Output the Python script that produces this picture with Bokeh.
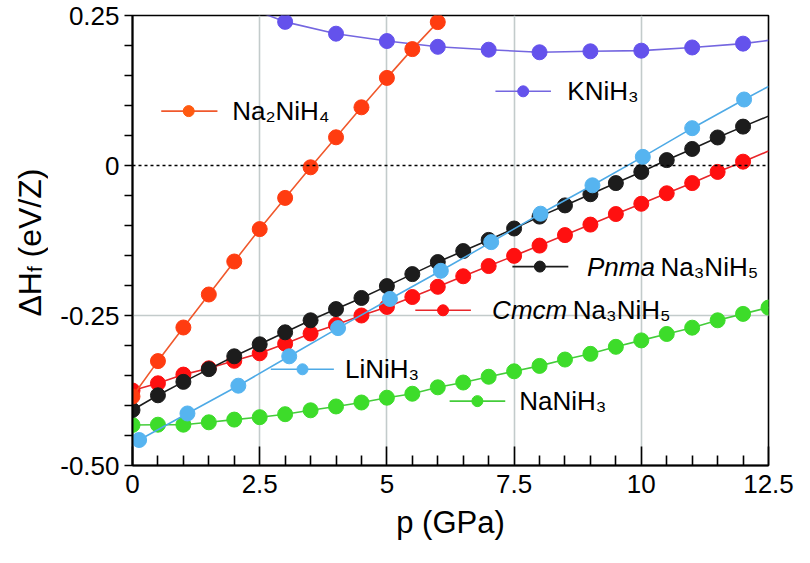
from bokeh.plotting import figure
from bokeh.layouts import row
from bokeh.models import FixedTicker, Span, Label, Range1d
from bokeh.embed import file_html
from bokeh.resources import INLINE

# ---------------- data ----------------
p_na2nih4 = [0.0, 0.5, 1.0, 1.5, 2.0, 2.5, 3.0, 3.5, 4.0, 4.5, 5.0, 5.5, 6.0]
h_na2nih4 = [-0.385, -0.326, -0.270, -0.215, -0.160, -0.106, -0.054, -0.003,
             0.047, 0.097, 0.146, 0.194, 0.239]

p_na3 = [0.0, 0.5, 1.0, 1.5, 2.0, 2.5, 3.0, 3.5, 4.0, 4.5, 5.0, 5.5, 6.0,
         6.5, 7.0, 7.5, 8.0, 8.5, 9.0, 9.5, 10.0, 10.5, 11.0, 11.5, 12.0]
h_cmcm = [-0.375, -0.363, -0.3485, -0.338, -0.3255, -0.313, -0.297, -0.280,
          -0.2655, -0.250, -0.2357, -0.2192, -0.2022, -0.1846, -0.1676, -0.1506,
          -0.1335, -0.116, -0.0985, -0.0809, -0.0638, -0.0463, -0.0293, -0.0107, 0.0064]
h_pnma = [-0.4075, -0.383, -0.3606, -0.3394, -0.318, -0.298, -0.278, -0.258,
          -0.2393, -0.2208, -0.201, -0.181, -0.161, -0.1426, -0.124, -0.105,
          -0.0852, -0.0665, -0.0479, -0.0293, -0.0107, 0.009, 0.0276, 0.0467, 0.0648]
end_p_na3 = 12.5
end_h_cmcm = 0.024
end_h_pnma = 0.0823

p_linih3 = [0.13, 1.08, 2.08, 3.08, 4.04, 5.06, 6.06, 7.05, 8.02, 9.04, 10.03, 11.0, 12.02]
h_linih3 = [-0.4575, -0.4133, -0.367, -0.318, -0.271, -0.2224, -0.1755, -0.1277,
            -0.0803, -0.033, 0.0144, 0.0622, 0.110]
start_p_linih3, start_h_linih3 = 0.0, -0.463
end_p_linih3, end_h_linih3 = 12.5, 0.1318

p_nanih3 = [0.0, 0.5, 1.0, 1.5, 2.0, 2.5, 3.0, 3.5, 4.0, 4.5, 5.0, 5.5, 6.0,
            6.5, 7.0, 7.5, 8.0, 8.5, 9.0, 9.5, 10.0, 10.5, 11.0, 11.5, 12.0, 12.5]
h_nanih3 = [-0.4325, -0.432, -0.432, -0.428, -0.4235, -0.4195, -0.4145, -0.408,
            -0.4016, -0.395, -0.387, -0.3804, -0.3697, -0.3617, -0.3521, -0.343,
            -0.334, -0.3234, -0.3139, -0.3022, -0.2915, -0.2808, -0.2703, -0.258,
            -0.2473, -0.2368]

p_knih3 = [3.0, 4.0, 5.0, 6.0, 7.0, 8.0, 9.0, 10.0, 11.0, 12.0]
h_knih3 = [0.2394, 0.2197, 0.2074, 0.1978, 0.193, 0.1887, 0.1903, 0.1914, 0.1967, 0.2031]
start_p_knih3, start_h_knih3 = 2.0, 0.272
end_p_knih3, end_h_knih3 = 12.5, 0.2085

x_ticks = [0.0, 2.5, 5.0, 7.5, 10.0, 12.5]
x_tick_labels = ["0", "2.5", "5", "7.5", "10", "12.5"]
x_minor = [0.5, 1.0, 1.5, 2.0, 3.0, 3.5, 4.0, 4.5, 5.5, 6.0, 6.5, 7.0, 8.0, 8.5,
           9.0, 9.5, 10.5, 11.0, 11.5, 12.0]
y_ticks = [-0.5, -0.25, 0.0, 0.25]
y_tick_labels = ["-0.50", "-0.25", "0", "0.25"]
y_minor = [-0.45, -0.40, -0.35, -0.30, -0.20, -0.15, -0.10, -0.05,
           0.05, 0.10, 0.15, 0.20]

x_title = "p (GPa)"
y_title_main, y_title_sub, y_title_unit = "ΔH", "f", "(eV/Z)"

# ---------------- styling ----------------
FONT = "Liberation Sans"
C_ORANGE, C_ORANGE_L, C_ORANGE_LEG = "#ff3c10", "#f0582c", "#ff5a10"
C_RED, C_RED_L = "#ff1010", "#e8262a"
C_BLACK = "#1c1c1c"
C_BLUE, C_BLUE_L = "#56b4f0", "#4eaae6"
C_GREEN, C_GREEN_L = "#3ddc2a", "#44cc3a"
C_PURPLE, C_PURPLE_L = "#6452ec", "#7466e0"

H = 547
LWF = 48                      # strip that carries the y title
BL, BR, BT, BB = 84, 26, 15, 82
FW = 636
W = BL + FW + BR              # 746 -> total 794

p = figure(width=W, height=H, x_range=Range1d(0, 12.5), y_range=Range1d(-0.5, 0.25),
           output_backend="svg", toolbar_location=None,
           min_border_left=BL, min_border_right=BR, min_border_top=BT, min_border_bottom=BB)
p.title.visible = False
p.background_fill_color = "white"
p.border_fill_color = "white"
p.outline_line_color = "black"
p.outline_line_width = 1.6

# axes
p.xaxis.ticker = FixedTicker(ticks=x_ticks, minor_ticks=x_minor)
p.xaxis.major_label_overrides = {t: l for t, l in zip(x_ticks, x_tick_labels)}
p.yaxis.ticker = FixedTicker(ticks=y_ticks, minor_ticks=y_minor)
p.yaxis.major_label_overrides = {t: l for t, l in zip(y_ticks, y_tick_labels)}
for ax in (p.xaxis[0], p.yaxis[0]):
    ax.axis_line_color = "black"
    ax.axis_line_width = 2
    ax.major_tick_line_color = "black"
    ax.minor_tick_line_color = "black"
    ax.major_tick_line_width = 1.6
    ax.minor_tick_line_width = 1.6
    ax.major_label_text_font = FONT
    ax.major_label_text_font_size = "26px"
    ax.major_label_text_color = "black"
p.xaxis.major_tick_in = 19
p.xaxis.major_tick_out = 0
p.xaxis.minor_tick_in = 10
p.xaxis.minor_tick_out = 0
p.xaxis.major_label_standoff = 9
p.yaxis.major_tick_in = 0
p.yaxis.major_tick_out = 8
p.yaxis.minor_tick_in = 0
p.yaxis.minor_tick_out = 8
p.yaxis.major_label_standoff = 5

p.xaxis.axis_label = x_title
p.xaxis.axis_label_text_font = FONT
p.xaxis.axis_label_text_font_size = "31px"
p.xaxis.axis_label_text_font_style = "normal"
p.xaxis.axis_label_text_color = "black"
p.xaxis.axis_label_standoff = 9

# grid
p.xgrid.ticker = FixedTicker(ticks=[2.5, 5.0, 7.5, 10.0])
p.ygrid.ticker = FixedTicker(ticks=[-0.25])
for g in (p.xgrid[0], p.ygrid[0]):
    g.grid_line_color = "#c3cbcb"
    g.grid_line_width = 1.6

p.add_layout(Span(location=0, dimension="width", line_color="black",
                  line_width=1.5, line_dash="3 3"))

MS = 15
LW = 1.6

# NaNiH3
p.line(p_nanih3, h_nanih3, line_color=C_GREEN_L, line_width=LW)
p.scatter(p_nanih3, h_nanih3, size=MS, fill_color=C_GREEN, line_color=C_GREEN)
# KNiH3
p.line([start_p_knih3] + p_knih3 + [end_p_knih3], [start_h_knih3] + h_knih3 + [end_h_knih3],
       line_color=C_PURPLE_L, line_width=LW)
p.scatter(p_knih3, h_knih3, size=MS, fill_color=C_PURPLE, line_color=C_PURPLE)
# Cmcm Na3NiH5
p.line(p_na3 + [end_p_na3], h_cmcm + [end_h_cmcm], line_color=C_RED_L, line_width=LW)
p.scatter(p_na3, h_cmcm, size=MS, fill_color=C_RED, line_color=C_RED)
# Pnma Na3NiH5
p.line(p_na3 + [end_p_na3], h_pnma + [end_h_pnma], line_color=C_BLACK, line_width=LW)
p.scatter(p_na3, h_pnma, size=MS, fill_color=C_BLACK, line_color=C_BLACK)
# LiNiH3
p.line([start_p_linih3] + p_linih3 + [end_p_linih3], [start_h_linih3] + h_linih3 + [end_h_linih3],
       line_color=C_BLUE_L, line_width=LW)
p.scatter(p_linih3, h_linih3, size=MS, fill_color=C_BLUE, line_color=C_BLUE)
# Na2NiH4
p.line(p_na2nih4, h_na2nih4, line_color=C_ORANGE_L, line_width=LW)
p.scatter(p_na2nih4, h_na2nih4, size=MS, fill_color=C_ORANGE, line_color=C_ORANGE)


# ---------------- inline legends ----------------
def rx(px):  # reference-pixel position -> data coordinates
    return (px - 131.7) / 51.87


def ry(py):
    return 0.25 - (py - 6.7) / 627.5


def legend(x0, x1, xm, y, col_line, col_mark, parts):
    p.line([rx(x0), rx(x1)], [ry(y), ry(y)], line_color=col_line, line_width=LW)
    p.scatter([rx(xm)], [ry(y)], size=11, fill_color=col_mark, line_color=col_mark)
    for (tx, txt, style) in parts:
        p.add_layout(Label(x=rx(tx), y=ry(y), text=txt, text_font=FONT, text_font_size="26px",
                           text_font_style=style, text_baseline="middle", text_align="left",
                           text_color="black"))


legend(161, 218.3, 189, 106.7, C_ORANGE_L, C_ORANGE_LEG, [(233.3, "Na₂NiH₄", "normal")])
legend(501.7, 558.3, 530, 86, C_PURPLE_L, C_PURPLE, [(575, "KNiH₃", "normal")])
legend(519, 576, 547, 269.3, C_BLACK, C_BLACK, [(595, "Pnma", "italic"), (670, "Na₃NiH₅", "normal")])
legend(420, 476.7, 448.3, 315, C_RED_L, C_RED, [(498.3, "Cmcm", "italic"), (580.6, "Na₃NiH₅", "normal")])
legend(272.7, 337, 305, 376.7, C_BLUE_L, C_BLUE, [(348.3, "LiNiH₃", "normal")])
legend(455, 511.7, 483.3, 410, C_GREEN_L, C_GREEN, [(526, "NaNiH₃", "normal")])

# ---------------- y title strip ----------------
# Its frame is aligned with the main frame (canvas rows BT .. H-BB), so the
# y range below makes y = -(canvas pixel row).
ft = figure(width=LWF, height=H, x_range=Range1d(0, LWF), y_range=Range1d(-(H - BB), -BT),
            output_backend="svg", toolbar_location=None,
            x_axis_location=None, y_axis_location=None,
            min_border_left=0, min_border_right=0, min_border_top=BT, min_border_bottom=BB)
ft.title.visible = False
ft.outline_line_color = None
ft.xgrid.visible = False
ft.ygrid.visible = False


def tlabel(x, y_row, txt, size):
    ft.add_layout(Label(x=x, y=-y_row, text=txt, text_font=FONT, text_font_size=size,
                        angle=90, angle_units="deg", text_align="left",
                        text_baseline="alphabetic", text_color="black"))


tlabel(29, 316.0, y_title_main, "32px")
tlabel(34, 271.5, y_title_sub, "21px")
tlabel(29, 257.0, y_title_unit, "32px")

layout = row(ft, p, spacing=0)
open("out.html", "w").write(file_html(layout, INLINE))
